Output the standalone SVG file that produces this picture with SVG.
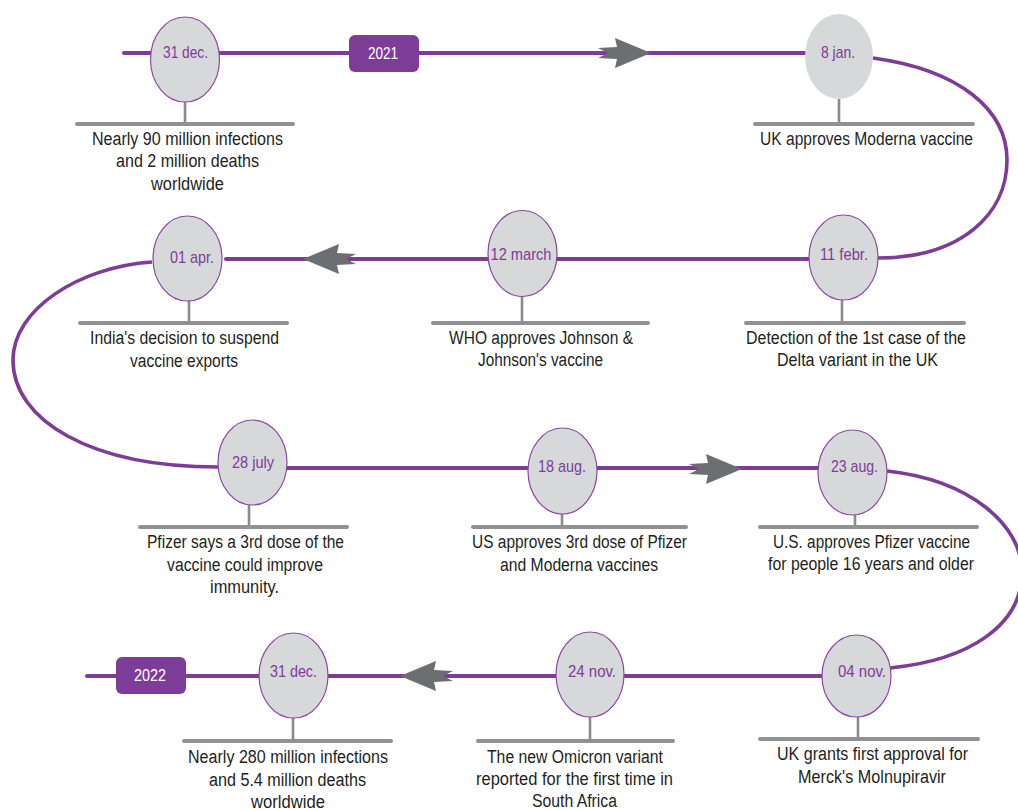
<svg xmlns="http://www.w3.org/2000/svg" width="1018" height="810" viewBox="0 0 1018 810">
<defs>
<style>
.ln{fill:none;stroke:#7d3c97;stroke-width:4;stroke-linecap:round}
.cv{fill:none;stroke:#7d3c97;stroke-width:3.6}
.ov{fill:#d7d8da;stroke:#8a4a9e;stroke-width:1.2}
.st{stroke:#8b8b8e;stroke-width:2.6}
.bar{stroke:#919194;stroke-width:4;stroke-linecap:round}
.dt{font-family:"Liberation Sans Narrow","Liberation Sans",sans-serif;font-size:17px;fill:#7d3c97;text-anchor:middle}
.lb{font-family:"Liberation Sans Narrow","Liberation Sans",sans-serif;font-size:18px;fill:#231f20;text-anchor:middle}
.yr{fill:#7d3c97}
.yt{font-family:"Liberation Sans Narrow","Liberation Sans",sans-serif;font-size:16px;fill:#ffffff;text-anchor:middle}
.ar{fill:#6d6e71}
</style>
<path id="arr" d="M0,0 L-36,-15 L-34,-6 L-53,-5 L-43,0 L-53,5 L-34,6 L-36,15 Z"/>
</defs>
<rect width="1018" height="810" fill="#ffffff"/>

<g id="connectors">
<line class="ln" x1="124" y1="53" x2="806" y2="53"/>
<path class="cv" d="M873,58 C960,70 1007,110 1007,160 C1007,215 960,258 878,258"/>
<line class="ln" x1="226" y1="259" x2="808" y2="259"/>
<path class="cv" d="M152,262 C78,267 13,310 13,360 C13,420 90,467 218,467"/>
<line class="ln" x1="287" y1="468" x2="818" y2="468"/>
<path class="cv" d="M887,471 C970,480 1022,525 1022,572 C1022,625 970,660 890,668"/>
<line class="ln" x1="87" y1="676" x2="822" y2="676"/>
<use href="#arr" class="ar" transform="translate(651,53)"/>
<use href="#arr" class="ar" transform="translate(303,259) scale(-1,1)"/>
<use href="#arr" class="ar" transform="translate(742,469)"/>
<use href="#arr" class="ar" transform="translate(400,676) scale(-1,1)"/>
</g>

<g id="year-2021">
<rect class="yr" x="349" y="35" width="70" height="37" rx="6"/>
<text class="yt" x="383" y="59" textLength="30" lengthAdjust="spacingAndGlyphs">2021</text>
</g>
<g id="year-2022">
<rect class="yr" x="116" y="657" width="70" height="37" rx="6"/>
<text class="yt" x="150" y="681" textLength="32" lengthAdjust="spacingAndGlyphs">2022</text>
</g>

<g id="n-31dec-2020">
<line class="st" x1="185" y1="102" x2="185" y2="124"/>
<line class="bar" x1="77" y1="124" x2="293" y2="124"/>
<ellipse class="ov" cx="185" cy="59.5" rx="34.5" ry="42.5"/>
<text class="dt" x="185.5" y="58" textLength="45" lengthAdjust="spacingAndGlyphs">31 dec.</text>
<text class="lb" x="187.5" y="145" textLength="191" lengthAdjust="spacingAndGlyphs">Nearly 90 million infections</text>
<text class="lb" x="187.5" y="167" textLength="143" lengthAdjust="spacingAndGlyphs">and 2 million deaths</text>
<text class="lb" x="187.5" y="190" textLength="73" lengthAdjust="spacingAndGlyphs">worldwide</text>
</g>

<g id="n-8jan">
<line class="st" x1="839" y1="99" x2="839" y2="124"/>
<line class="bar" x1="755" y1="124" x2="973" y2="124"/>
<ellipse cx="839" cy="56.5" rx="34" ry="42.5" fill="#d7d8da"/>
<text class="dt" x="838" y="58" textLength="34" lengthAdjust="spacingAndGlyphs">8 jan.</text>
<text class="lb" x="866.5" y="145" textLength="213" lengthAdjust="spacingAndGlyphs">UK approves Moderna vaccine</text>
</g>

<g id="n-11febr">
<line class="st" x1="842" y1="300" x2="842" y2="323"/>
<line class="bar" x1="746" y1="323" x2="964" y2="323"/>
<ellipse class="ov" cx="843.5" cy="257.5" rx="34.5" ry="42.5"/>
<text class="dt" x="844" y="260" textLength="48" lengthAdjust="spacingAndGlyphs">11 febr.</text>
<text class="lb" x="856" y="344" textLength="220" lengthAdjust="spacingAndGlyphs">Detection of the 1st case of the</text>
<text class="lb" x="857.5" y="366" textLength="161" lengthAdjust="spacingAndGlyphs">Delta variant in the UK</text>
</g>

<g id="n-12march">
<line class="st" x1="522" y1="296" x2="522" y2="323"/>
<line class="bar" x1="433" y1="323" x2="648" y2="323"/>
<ellipse class="ov" cx="522.5" cy="253.5" rx="34.5" ry="43"/>
<text class="dt" x="521" y="260" textLength="61" lengthAdjust="spacingAndGlyphs">12 march</text>
<text class="lb" x="541" y="344" textLength="184" lengthAdjust="spacingAndGlyphs">WHO approves Johnson &amp;</text>
<text class="lb" x="540.5" y="366" textLength="125" lengthAdjust="spacingAndGlyphs">Johnson's vaccine</text>
</g>

<g id="n-01apr">
<line class="st" x1="189" y1="301" x2="189" y2="323"/>
<line class="bar" x1="80" y1="323" x2="287" y2="323"/>
<ellipse class="ov" cx="187.5" cy="258.5" rx="34.5" ry="42.5"/>
<text class="dt" x="192" y="263" textLength="44" lengthAdjust="spacingAndGlyphs">01 apr.</text>
<text class="lb" x="184.5" y="344" textLength="189" lengthAdjust="spacingAndGlyphs">India's decision to suspend</text>
<text class="lb" x="184" y="367" textLength="108" lengthAdjust="spacingAndGlyphs">vaccine exports</text>
</g>

<g id="n-28july">
<line class="st" x1="249" y1="505" x2="249" y2="527"/>
<line class="bar" x1="140" y1="527" x2="347" y2="527"/>
<ellipse class="ov" cx="252.5" cy="462.5" rx="34.5" ry="42.5"/>
<text class="dt" x="253" y="468" textLength="42" lengthAdjust="spacingAndGlyphs">28 july</text>
<text class="lb" x="245.5" y="548" textLength="197" lengthAdjust="spacingAndGlyphs">Pfizer says a 3rd dose of the</text>
<text class="lb" x="245" y="571" textLength="156" lengthAdjust="spacingAndGlyphs">vaccine could improve</text>
<text class="lb" x="244.5" y="593" textLength="69" lengthAdjust="spacingAndGlyphs">immunity.</text>
</g>

<g id="n-18aug">
<line class="st" x1="562" y1="514" x2="562" y2="527"/>
<line class="bar" x1="473" y1="527" x2="686" y2="527"/>
<ellipse class="ov" cx="562.5" cy="471" rx="34.5" ry="43"/>
<text class="dt" x="562" y="472" textLength="48" lengthAdjust="spacingAndGlyphs">18 aug.</text>
<text class="lb" x="579.5" y="548" textLength="215" lengthAdjust="spacingAndGlyphs">US approves 3rd dose of Pfizer</text>
<text class="lb" x="579" y="571" textLength="158" lengthAdjust="spacingAndGlyphs">and Moderna vaccines</text>
</g>

<g id="n-23aug">
<line class="st" x1="855" y1="515" x2="855" y2="527"/>
<line class="bar" x1="760" y1="527" x2="977" y2="527"/>
<ellipse class="ov" cx="852.5" cy="472.5" rx="34.5" ry="42.5"/>
<text class="dt" x="854.5" y="472" textLength="47" lengthAdjust="spacingAndGlyphs">23 aug.</text>
<text class="lb" x="871.5" y="548" textLength="197" lengthAdjust="spacingAndGlyphs">U.S. approves Pfizer vaccine</text>
<text class="lb" x="871" y="570" textLength="206" lengthAdjust="spacingAndGlyphs">for people 16 years and older</text>
</g>

<g id="n-04nov">
<line class="st" x1="858" y1="717" x2="858" y2="739"/>
<line class="bar" x1="760" y1="739" x2="978" y2="739"/>
<ellipse class="ov" cx="856.5" cy="676" rx="34.5" ry="41"/>
<text class="dt" x="862" y="677" textLength="48" lengthAdjust="spacingAndGlyphs">04 nov.</text>
<text class="lb" x="872.5" y="760" textLength="191" lengthAdjust="spacingAndGlyphs">UK grants first approval for</text>
<text class="lb" x="872" y="783" textLength="148" lengthAdjust="spacingAndGlyphs">Merck's Molnupiravir</text>
</g>

<g id="n-24nov">
<line class="st" x1="590" y1="717" x2="590" y2="741"/>
<line class="bar" x1="478" y1="741" x2="673" y2="741"/>
<ellipse class="ov" cx="590" cy="674.5" rx="34" ry="42.5"/>
<text class="dt" x="592" y="677" textLength="48" lengthAdjust="spacingAndGlyphs">24 nov.</text>
<text class="lb" x="575" y="763" textLength="176" lengthAdjust="spacingAndGlyphs">The new Omicron variant</text>
<text class="lb" x="574.5" y="785" textLength="197" lengthAdjust="spacingAndGlyphs">reported for the first time in</text>
<text class="lb" x="574.5" y="807" textLength="85" lengthAdjust="spacingAndGlyphs">South Africa</text>
</g>

<g id="n-31dec-2021">
<line class="st" x1="293" y1="718" x2="293" y2="741"/>
<line class="bar" x1="184" y1="741" x2="391" y2="741"/>
<ellipse class="ov" cx="293.5" cy="675.5" rx="34.5" ry="42.5"/>
<text class="dt" x="293.5" y="677" textLength="47" lengthAdjust="spacingAndGlyphs">31 dec.</text>
<text class="lb" x="288" y="763" textLength="200" lengthAdjust="spacingAndGlyphs">Nearly 280 million infections</text>
<text class="lb" x="287.5" y="786" textLength="157" lengthAdjust="spacingAndGlyphs">and 5.4 million deaths</text>
<text class="lb" x="288" y="808" textLength="74" lengthAdjust="spacingAndGlyphs">worldwide</text>
</g>
</svg>
